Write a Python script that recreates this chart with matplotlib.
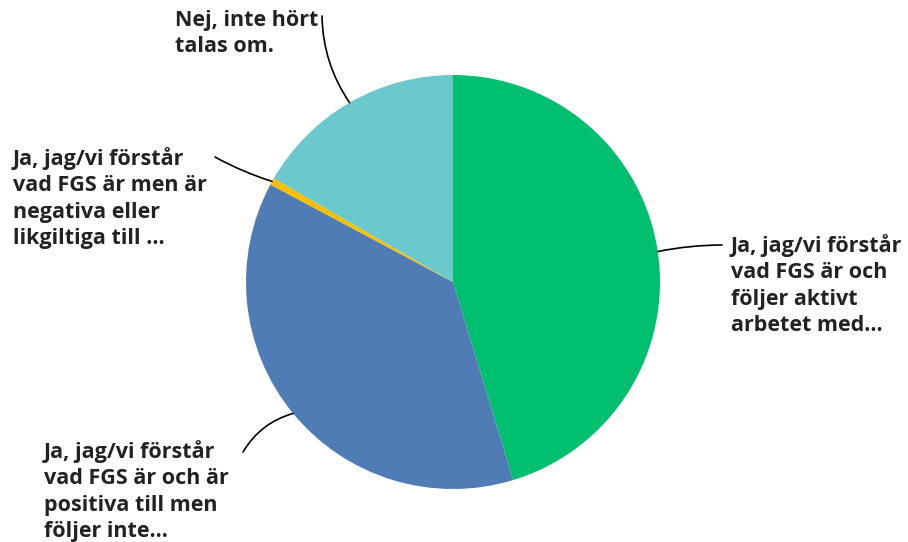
import numpy as np
import matplotlib
matplotlib.use("Agg")
from matplotlib import pyplot as plt

labels = [
    "Ja, jag/vi förstår\nvad FGS är och\nföljer aktivt\narbetet med...",
    "Ja, jag/vi förstår\nvad FGS är och är\npositiva till men\nföljer inte...",
    "Ja, jag/vi förstår\nvad FGS är men är\nnegativa eller\nlikgiltiga till ...",
    "Nej, inte hört\ntalas om.",
]
values = [45.3, 37.5, 0.55, 16.65]
colors = ["#00BF6F", "#507CB6", "#F9BE00", "#6BC8CD"]

W, H = 908, 542
fig = plt.figure(figsize=(W / 100, H / 100), dpi=100)
plt.rcParams["font.family"] = ["Open Sans", "DejaVu Sans"]

cx, cy, r = 453, 282, 207
ax = fig.add_axes([(cx - r) / W, (H - cy - r) / H, 2 * r / W, 2 * r / H])
wedges, _ = ax.pie(values, colors=colors, startangle=90, counterclock=False,
                   radius=1, wedgeprops=dict(linewidth=0))
ax.set_xlim(-1, 1)
ax.set_ylim(-1, 1)
ax.set_aspect("equal")
ax.axis("off")

# label layout in pixels: (text left x, first line center y, line end x, line end y, rad)
layout = [
    (731, 244, 722, 245, 0.05),
    (44, 450, 243, 452, -0.2),
    (13, 157, 215, 157, 0.05),
    (175, 20, 322, 16, 0.15),
]

for w, lab, (tx, ty, lx, ly, rad) in zip(wedges, labels, layout):
    ang = np.deg2rad((w.theta1 + w.theta2) / 2)
    px, py = np.cos(ang), np.sin(ang)
    ax.annotate("", xy=(px, py), xycoords="data",
                xytext=(lx / W, 1 - ly / H), textcoords="figure fraction",
                arrowprops=dict(arrowstyle="-", color="black", lw=1.2,
                                shrinkA=0, shrinkB=0,
                                connectionstyle=f"arc3,rad={rad}"))
    fig.text(tx / W, 1 - (ty - 10) / H, lab, ha="left", va="top",
             fontsize=15.5, fontweight="bold", color="#222222",
             linespacing=1.33)

fig.savefig("out.png", dpi=100)
